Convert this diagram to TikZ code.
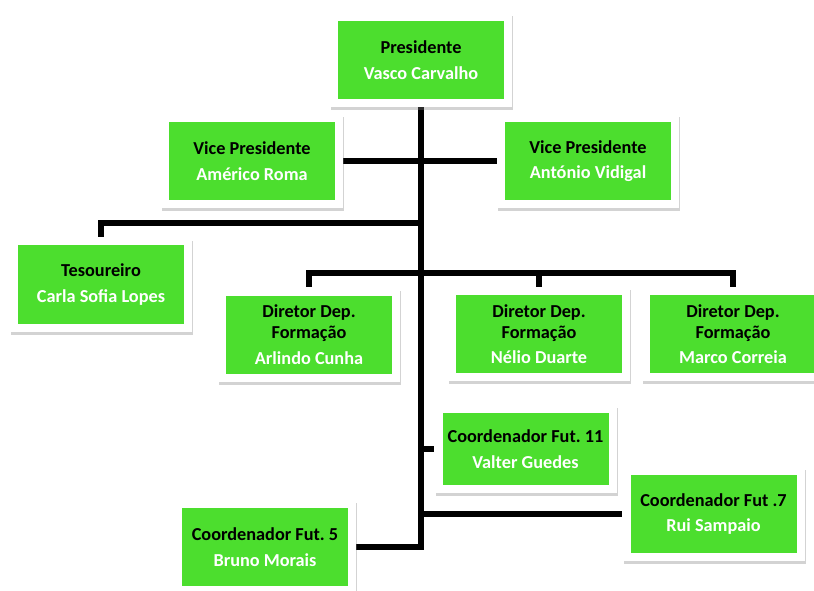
\documentclass[tikz,border=0pt]{standalone}
\usepackage{fontspec}
\setmainfont{Carlito}
\usetikzlibrary{shadows}
\usetikzlibrary{backgrounds}
\definecolor{boxgreen}{RGB}{76,222,46}
\frenchspacing

\begin{document}
\begin{tikzpicture}[
    x=0.75pt, y=0.75pt,
    box/.style={rectangle, fill=white, minimum width=136.5pt, minimum height=70.5pt,
        inner sep=0pt, align=center, font=\fontsize{13.7}{16}\selectfont\bfseries,
        drop shadow={shadow xshift=1pt, shadow yshift=-2.5pt, opacity=0.35},
        path picture={\fill[boxgreen] ([shift={(6pt,6pt)}]path picture bounding box.south west)
            rectangle ([shift={(-6pt,-6pt)}]path picture bounding box.north east);}},
    link/.style={line width=4pt, line join=miter},
]
    \useasboundingbox (0,0) rectangle (814,590);

    % Presidente
    \node at (421, 530) [box](pres){Presidente\\[3pt]\textcolor{white}{Vasco Carvalho}};

    % Vice presidentes
    \node at (252, 429) [box](vpa){Vice Presidente\\[3pt]\textcolor{white}{Américo Roma}};
    \node at (588, 429) [box](vpb){Vice Presidente\\[3pt]\textcolor{white}{António Vidigal}};

    % Tesoureiro
    \node at (101, 305.5) [box](tes){Tesoureiro\\[3pt]\textcolor{white}{Carla Sofia Lopes}};

    % Diretores
    \node at (309, 255.5) [box](dira){Diretor Dep.\\Formação\\[3pt]\textcolor{white}{Arlindo Cunha}};
    \node at (539, 256) [box](dirb){Diretor Dep.\\Formação\\[3pt]\textcolor{white}{Nélio Duarte}};
    \node at (733, 256) [box](dirc){Diretor Dep.\\Formação\\[3pt]\textcolor{white}{Marco Correia}};

    % Coordenadores
    \node at (525.5, 141) [box, minimum height=66pt](cfa){Coordenador Fut. 11\\[3pt]\textcolor{white}{Valter Guedes}};
    \node at (713.5, 76) [box](cfb){Coordenador Fut .7\\[3pt]\textcolor{white}{Rui Sampaio}};
    \node at (265, 43) [box](cfc){Coordenador Fut. 5\\[3pt]\textcolor{white}{Bruno Morais}};

    \coordinate (tesbar) at (421, 367);
    \coordinate (dirbar) at (421, 317);

    \begin{scope}[on background layer]
    \draw [link] (pres.south) -- (pres.south |- cfc.east) -- (cfc.east);
    \draw [link] (vpa.east) -- (vpb.west);
    \draw [link] (tes.north) |- (tesbar);
    \draw [link] (dira.north) |- (dirc.north |- dirbar) -- (dirc.north);
    \draw [link] (dirb.north) -- (dirb.north |- dirbar);
    \draw [link] (pres.south |- cfa.west) -- (cfa.west);
    \draw [link] (pres.south |- cfb.west) -- (cfb.west);
    \end{scope}
\end{tikzpicture}
\end{document}
